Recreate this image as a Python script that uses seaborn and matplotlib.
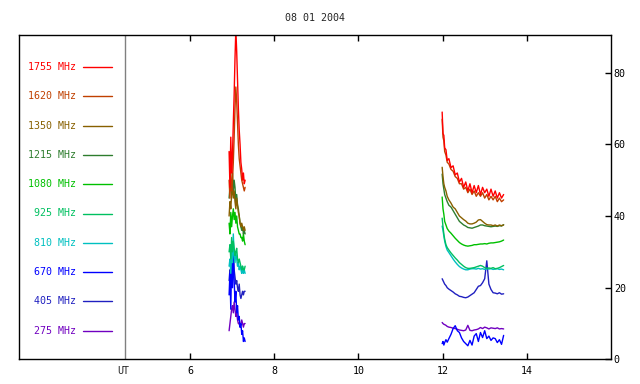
import numpy as np
import pandas as pd
import matplotlib
matplotlib.use("Agg")
import matplotlib.pyplot as plt
import seaborn as sns
from matplotlib.lines import Line2D
from matplotlib.transforms import blended_transform_factory

sns.set_style("white")
plt.rcParams["font.family"] = ["DejaVu Sans Mono", "DejaVu Sans"]

title = "08 01 2004"
freqs = ["1755 MHz", "1620 MHz", "1350 MHz", "1215 MHz", "1080 MHz",
         "925 MHz", "810 MHz", "670 MHz", "405 MHz", "275 MHz"]
colors = ["#ff0000", "#c04000", "#886000", "#2e7d2e", "#00c000",
          "#00c060", "#00c0c0", "#0000ff", "#2020c0", "#7000c0"]
x_ticks = [6, 8, 10, 12, 14]
y_ticks = [0, 20, 40, 60, 80]

# morning segment (UT hours)
t1 = [6.93, 6.95, 6.97, 6.99, 7.01, 7.03, 7.05, 7.07, 7.09, 7.11,
      7.13, 7.15, 7.17, 7.19, 7.21, 7.23, 7.25, 7.27, 7.29, 7.31]
# afternoon segment (UT hours)
t2 = [11.99, 12.01, 12.03, 12.05, 12.08, 12.11, 12.15, 12.20, 12.25, 12.30, 12.35,
      12.40, 12.45, 12.50, 12.55, 12.60, 12.65, 12.70, 12.75, 12.80, 12.85, 12.90,
      12.95, 13.00, 13.05, 13.10, 13.15, 13.20, 13.25, 13.30, 13.35, 13.40, 13.45]

f1755_a = [58, 48, 62, 52, 57, 66, 74, 84, 92, 86, 78, 70, 64, 60, 55, 53, 50, 52, 49, 50]
f1620_a = [50, 45, 52, 47, 50, 55, 62, 70, 76, 72, 66, 60, 56, 54, 52, 50, 49, 48, 47, 48]
f1350_a = [40, 44, 42, 46, 48, 45, 47, 44, 42, 45, 43, 41, 40, 38, 37, 38, 37, 36, 37, 36]
f1215_a = [45, 48, 50, 46, 52, 47, 50, 48, 44, 46, 43, 42, 40, 38, 37, 36, 37, 35, 36, 35]
f1080_a = [38, 35, 41, 37, 40, 42, 39, 41, 38, 40, 37, 36, 35, 35, 34, 34, 33, 35, 33, 32]
f925_a = [30, 32, 28, 34, 30, 33, 31, 29, 30, 31, 28, 27, 28, 27, 26, 25, 26, 25, 25, 26]
f810_a = [26, 28, 24, 30, 27, 35, 29, 27, 30, 28, 26, 27, 25, 26, 25, 24, 26, 24, 25, 24]
f670_a = [18, 24, 14, 28, 20, 31, 22, 16, 19, 13, 15, 11, 12, 9, 10, 7, 8, 5, 6, 5]
f405_a = [22, 25, 20, 28, 24, 30, 25, 23, 21, 22, 20, 19, 21, 18, 17, 18, 19, 18, 19, 19]
f275_a = [8, 10, 12, 14, 15, 13, 16, 14, 12, 13, 11, 10, 10, 9, 10, 11, 10, 9, 10, 10]

f1755_b = [69, 63, 62.5, 59, 58.5, 55.5, 56, 53.5, 54, 51.5, 52, 49.5, 50.5, 48, 49.5, 47, 49,
           46.5, 48.5, 46.5, 48.5, 46, 48, 46.5, 47.5, 45.5, 47.5, 45.5, 47, 45, 46.5, 45, 46]
f1620_b = [67, 62, 61, 58, 57, 55, 54.5, 53, 52.5, 51, 50.5, 49, 49, 47.5, 48, 46.5, 47.5,
           46, 47, 45.5, 46.5, 45.5, 46.5, 45, 46, 44.5, 45.5, 44.5, 45.5, 44, 45, 44, 44.5]
f1350_b = [53.6, 51, 49, 48, 47, 45.5, 44.5, 43.6, 42.5, 42, 41, 40, 39.5, 39, 38.6, 38, 37.8,
           37.8, 38, 38.3, 38.9, 39, 38.5, 38, 37.6, 37.5, 37.5, 37.3, 37.5, 37.2, 37.5, 37.3, 37.5]
f1215_b = [51.7, 49, 47.5, 46, 45, 44, 43, 42.5, 41.5, 40.5, 39.5, 38.5, 38, 37.5, 37.2, 36.8,
           36.7, 36.6, 36.8, 37, 37.2, 37.5, 37.5, 37.3, 37.2, 37.1, 37, 37.1, 37.2, 37.1, 37.3, 37.2, 37.6]
f1080_b = [45.3, 42, 40.5, 38.5, 37.5, 36.5, 35.8, 35.2, 34.5, 33.8, 33.2, 32.6, 32.2, 31.9, 31.7,
           31.6, 31.7, 31.8, 32, 32, 32.1, 32.2, 32.2, 32.3, 32.2, 32.4, 32.5, 32.5, 32.6, 32.7, 32.8, 33, 33.3]
f925_b = [39.4, 37, 35, 33.5, 32, 31.2, 30.5, 29.7, 29, 28.3, 27.7, 27, 26.5, 26, 25.6, 25.4, 25.4,
          25.5, 25.6, 25.8, 26, 26.2, 26, 25.6, 25.4, 25.5, 25.4, 25.6, 25.3, 25.4, 25.6, 25.9, 26.2]
f810_b = [37.2, 36, 34.4, 33, 31.5, 30.5, 29.8, 28.9, 28, 27.2, 26.5, 25.9, 25.5, 25.2, 25, 25,
          25.2, 25.3, 25.3, 25.2, 25.4, 25.2, 25.3, 25.1, 25.3, 25.2, 25.3, 25.1, 25.2, 25.3, 25.1, 25.2, 25]
f670_b = [4.4, 5, 4, 4.7, 5.5, 4.8, 5.8, 7, 8.6, 9.4, 8, 7.5, 6, 5, 4.4, 3.8, 5.3, 4, 6.5, 7.2,
          5, 7.5, 6.1, 8, 5.8, 6.5, 5.3, 6, 5.8, 4.7, 5.5, 4.2, 6.7]
f405_b = [22.5, 22, 21.5, 21, 20.6, 20, 19.6, 19.2, 18.8, 18.3, 18, 17.6, 17.5, 17.3, 17.2, 17.4,
          17.8, 18.2, 18.6, 19.5, 20.4, 20.6, 21.4, 22.5, 27.5, 21, 19.5, 18.6, 18.5, 18.3, 18.6, 18.2, 18.3]
f275_b = [10.3, 10, 9.8, 9.7, 9.5, 9.2, 9, 8.9, 8.7, 8.6, 8.4, 8.2, 8.1, 8, 8.2, 9.5, 8.1, 8,
          8.2, 8.3, 8.5, 8.9, 8.6, 9, 8.8, 8.5, 8.8, 8.7, 8.6, 8.8, 8.5, 8.6, 8.5]

seg_a = [f1755_a, f1620_a, f1350_a, f1215_a, f1080_a, f925_a, f810_a, f670_a, f405_a, f275_a]
seg_b = [f1755_b, f1620_b, f1350_b, f1215_b, f1080_b, f925_b, f810_b, f670_b, f405_b, f275_b]

rows = []
for name, a, b in zip(freqs, seg_a, seg_b):
    for t, v in zip(t1, a):
        rows.append((name, "a", t, v))
    for t, v in zip(t2, b):
        rows.append((name, "b", t, v))
df = pd.DataFrame(rows, columns=["freq", "seg", "t", "v"])

W, H = 640, 384
fig = plt.figure(figsize=(W / 100, H / 100), dpi=100)
left, right, top, bottom = 19, 611, 35, 359.4
ax = fig.add_axes([left / W, 1 - bottom / H, (right - left) / W, (bottom - top) / H])

palette = dict(zip(freqs, colors))
sns.lineplot(data=df, x="t", y="v", hue="freq", units="seg", estimator=None,
             palette=palette, hue_order=freqs[::-1], legend=False,
             linewidth=1.0, ax=ax)

x_ut = 4.456
ax.set_xlim(1.94, 16.0)
ax.set_ylim(0, 90.5)
ax.axvline(x_ut, color="#808080", lw=1.0)
ax.set_xlabel("")
ax.set_ylabel("")
ax.set_xticks(x_ticks)
ax.set_xticklabels([str(v) for v in x_ticks])
ax.set_yticks(y_ticks)
ax.yaxis.tick_right()
ax.tick_params(axis="x", direction="in", top=True, bottom=True, length=4,
               width=1, labelsize=7.2, pad=5, colors="black")
ax.tick_params(axis="y", direction="in", left=False, right=True, length=4,
               width=1, labelsize=7.2, pad=2, colors="black")
for s in ax.spines.values():
    s.set_color("black")
    s.set_linewidth(1.0)

trans = blended_transform_factory(ax.transData, ax.transAxes)
ax.annotate("UT", xy=(x_ut, 0), xycoords=trans, xytext=(-1, -5),
            textcoords="offset points", ha="center", va="top", fontsize=7.2)

fig.text(315 / W, 1 - 18 / H, title, ha="center", va="center", fontsize=7.2)

for i, (name, c) in enumerate(zip(freqs, colors)):
    py = 67 + i * 29.3
    fig.text(76 / W, 1 - py / H, name, color=c, ha="right", va="center", fontsize=7.2)
    fig.add_artist(Line2D([83 / W, 112 / W], [1 - py / H, 1 - py / H],
                          transform=fig.transFigure, color=c, lw=1.0))

fig.savefig("out.png", dpi=100)
